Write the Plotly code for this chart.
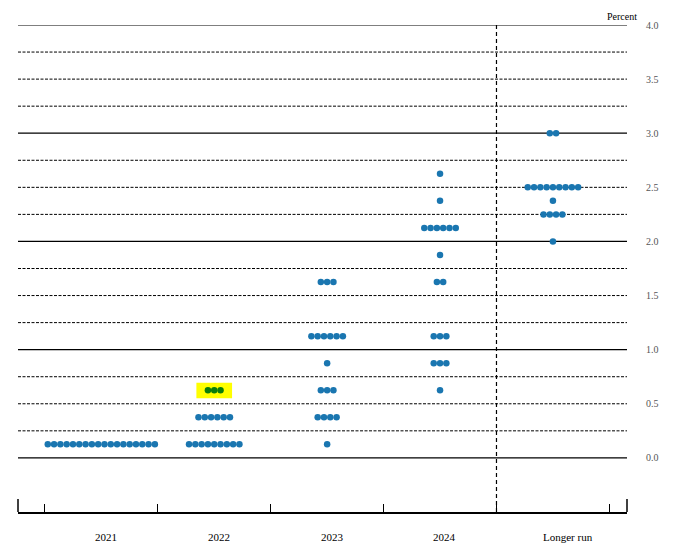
import plotly.graph_objects as go

categories = ["2021", "2022", "2023", "2024", "Longer run"]

levels_2021 = [0.125]
counts_2021 = [18]

levels_2022 = [0.125, 0.375, 0.625]
counts_2022 = [9, 6, 3]

levels_2023 = [0.125, 0.375, 0.625, 0.875, 1.125, 1.625]
counts_2023 = [1, 4, 3, 1, 6, 3]

levels_2024 = [0.625, 0.875, 1.125, 1.625, 1.875, 2.125, 2.375, 2.625]
counts_2024 = [1, 3, 3, 2, 1, 6, 1, 1]

levels_lr = [2.0, 2.25, 2.375, 2.5, 3.0]
counts_lr = [1, 4, 1, 9, 2]

highlight_category = "2022"
highlight_level = 0.625

y_ticks = [0.0, 0.5, 1.0, 1.5, 2.0, 2.5, 3.0, 3.5, 4.0]

all_levels = [levels_2021, levels_2022, levels_2023, levels_2024, levels_lr]
all_counts = [counts_2021, counts_2022, counts_2023, counts_2024, counts_lr]

BLUE = "#1a76b0"
GREEN = "#0a7d0a"
SPACING = 0.0558
FONT = "Liberation Serif"

fig = go.Figure()

bx, by, gx, gy = [], [], [], []
for ci, (lv, cn) in enumerate(zip(all_levels, all_counts)):
    for level, n in zip(lv, cn):
        for k in range(n):
            x = ci + (k - (n - 1) / 2) * SPACING
            if categories[ci] == highlight_category and level == highlight_level:
                gx.append(x); gy.append(level)
            else:
                bx.append(x); by.append(level)

fig.add_trace(go.Scatter(x=bx, y=by, mode="markers",
                         marker=dict(color=BLUE, size=6.5, line=dict(width=0)),
                         hoverinfo="skip", showlegend=False))
fig.add_trace(go.Scatter(x=gx, y=gy, mode="markers",
                         marker=dict(color=GREEN, size=6.5, line=dict(width=0)),
                         hoverinfo="skip", showlegend=False))

shapes = []
# horizontal grid lines every 0.25
for i in range(17):
    v = i * 0.25
    solid = (i % 4 == 0)
    shapes.append(dict(type="line", xref="paper", x0=0, x1=1, yref="y", y0=v, y1=v,
                       line=dict(color="black", width=1.2 if solid else 1,
                                 dash="solid" if solid else "3px,1.5px"),
                       layer="below"))
# highlight box
hi = categories.index(highlight_category)
shapes.append(dict(type="rect", xref="x", yref="y",
                   x0=hi - 0.158, x1=hi + 0.158,
                   y0=highlight_level - 0.075, y1=highlight_level + 0.07,
                   fillcolor="#ffff00", line=dict(width=0), layer="below"))
# vertical dashed separator
shapes.append(dict(type="line", xref="x", yref="y", x0=3.5, x1=3.5, y0=-0.5, y1=4.0,
                   line=dict(color="black", width=1.2, dash="4px,3px")))
# tall end ticks
for xp in [0, 1]:
    shapes.append(dict(type="line", xref="paper", yref="paper", x0=xp, x1=xp,
                       y0=0, y1=13 / 487, line=dict(color="black", width=1.5)))

annotations = [dict(text="Percent", xref="paper", yref="paper", x=1, y=1,
                    xanchor="right", yanchor="top", xshift=12, yshift=16,
                    showarrow=False, font=dict(family=FONT, size=10, color="black"))]
label_shift = [5, 5, 5, 4, 15]
for ci, c in enumerate(categories):
    annotations.append(dict(text=c, xref="x", yref="paper", x=ci, y=0,
                            xanchor="center", yanchor="middle", yshift=-25,
                            xshift=label_shift[ci], showarrow=False,
                            font=dict(family=FONT, size=11, color="black")))

fig.update_layout(
    width=688, height=555,
    margin=dict(l=10, r=69, t=17, b=51),
    paper_bgcolor="white", plot_bgcolor="white",
    shapes=shapes, annotations=annotations,
    xaxis=dict(range=[-0.738, 4.656], showgrid=False, zeroline=False,
               showline=True, linecolor="black", linewidth=1.5,
               tickvals=[-0.5, 0.5, 1.5, 2.5, 3.5, 4.5], ticks="inside",
               ticklen=8, tickcolor="black", tickwidth=1.2,
               showticklabels=False),
    yaxis=dict(range=[-0.5, 4.0], side="right", showgrid=False, zeroline=False,
               showline=False, tickvals=y_ticks,
               ticktext=[f"{v:.1f}" for v in y_ticks], ticks="",
               ticklabelstandoff=18,
               tickfont=dict(family=FONT, size=10, color="#555")),
)

fig.write_html("out.html")
